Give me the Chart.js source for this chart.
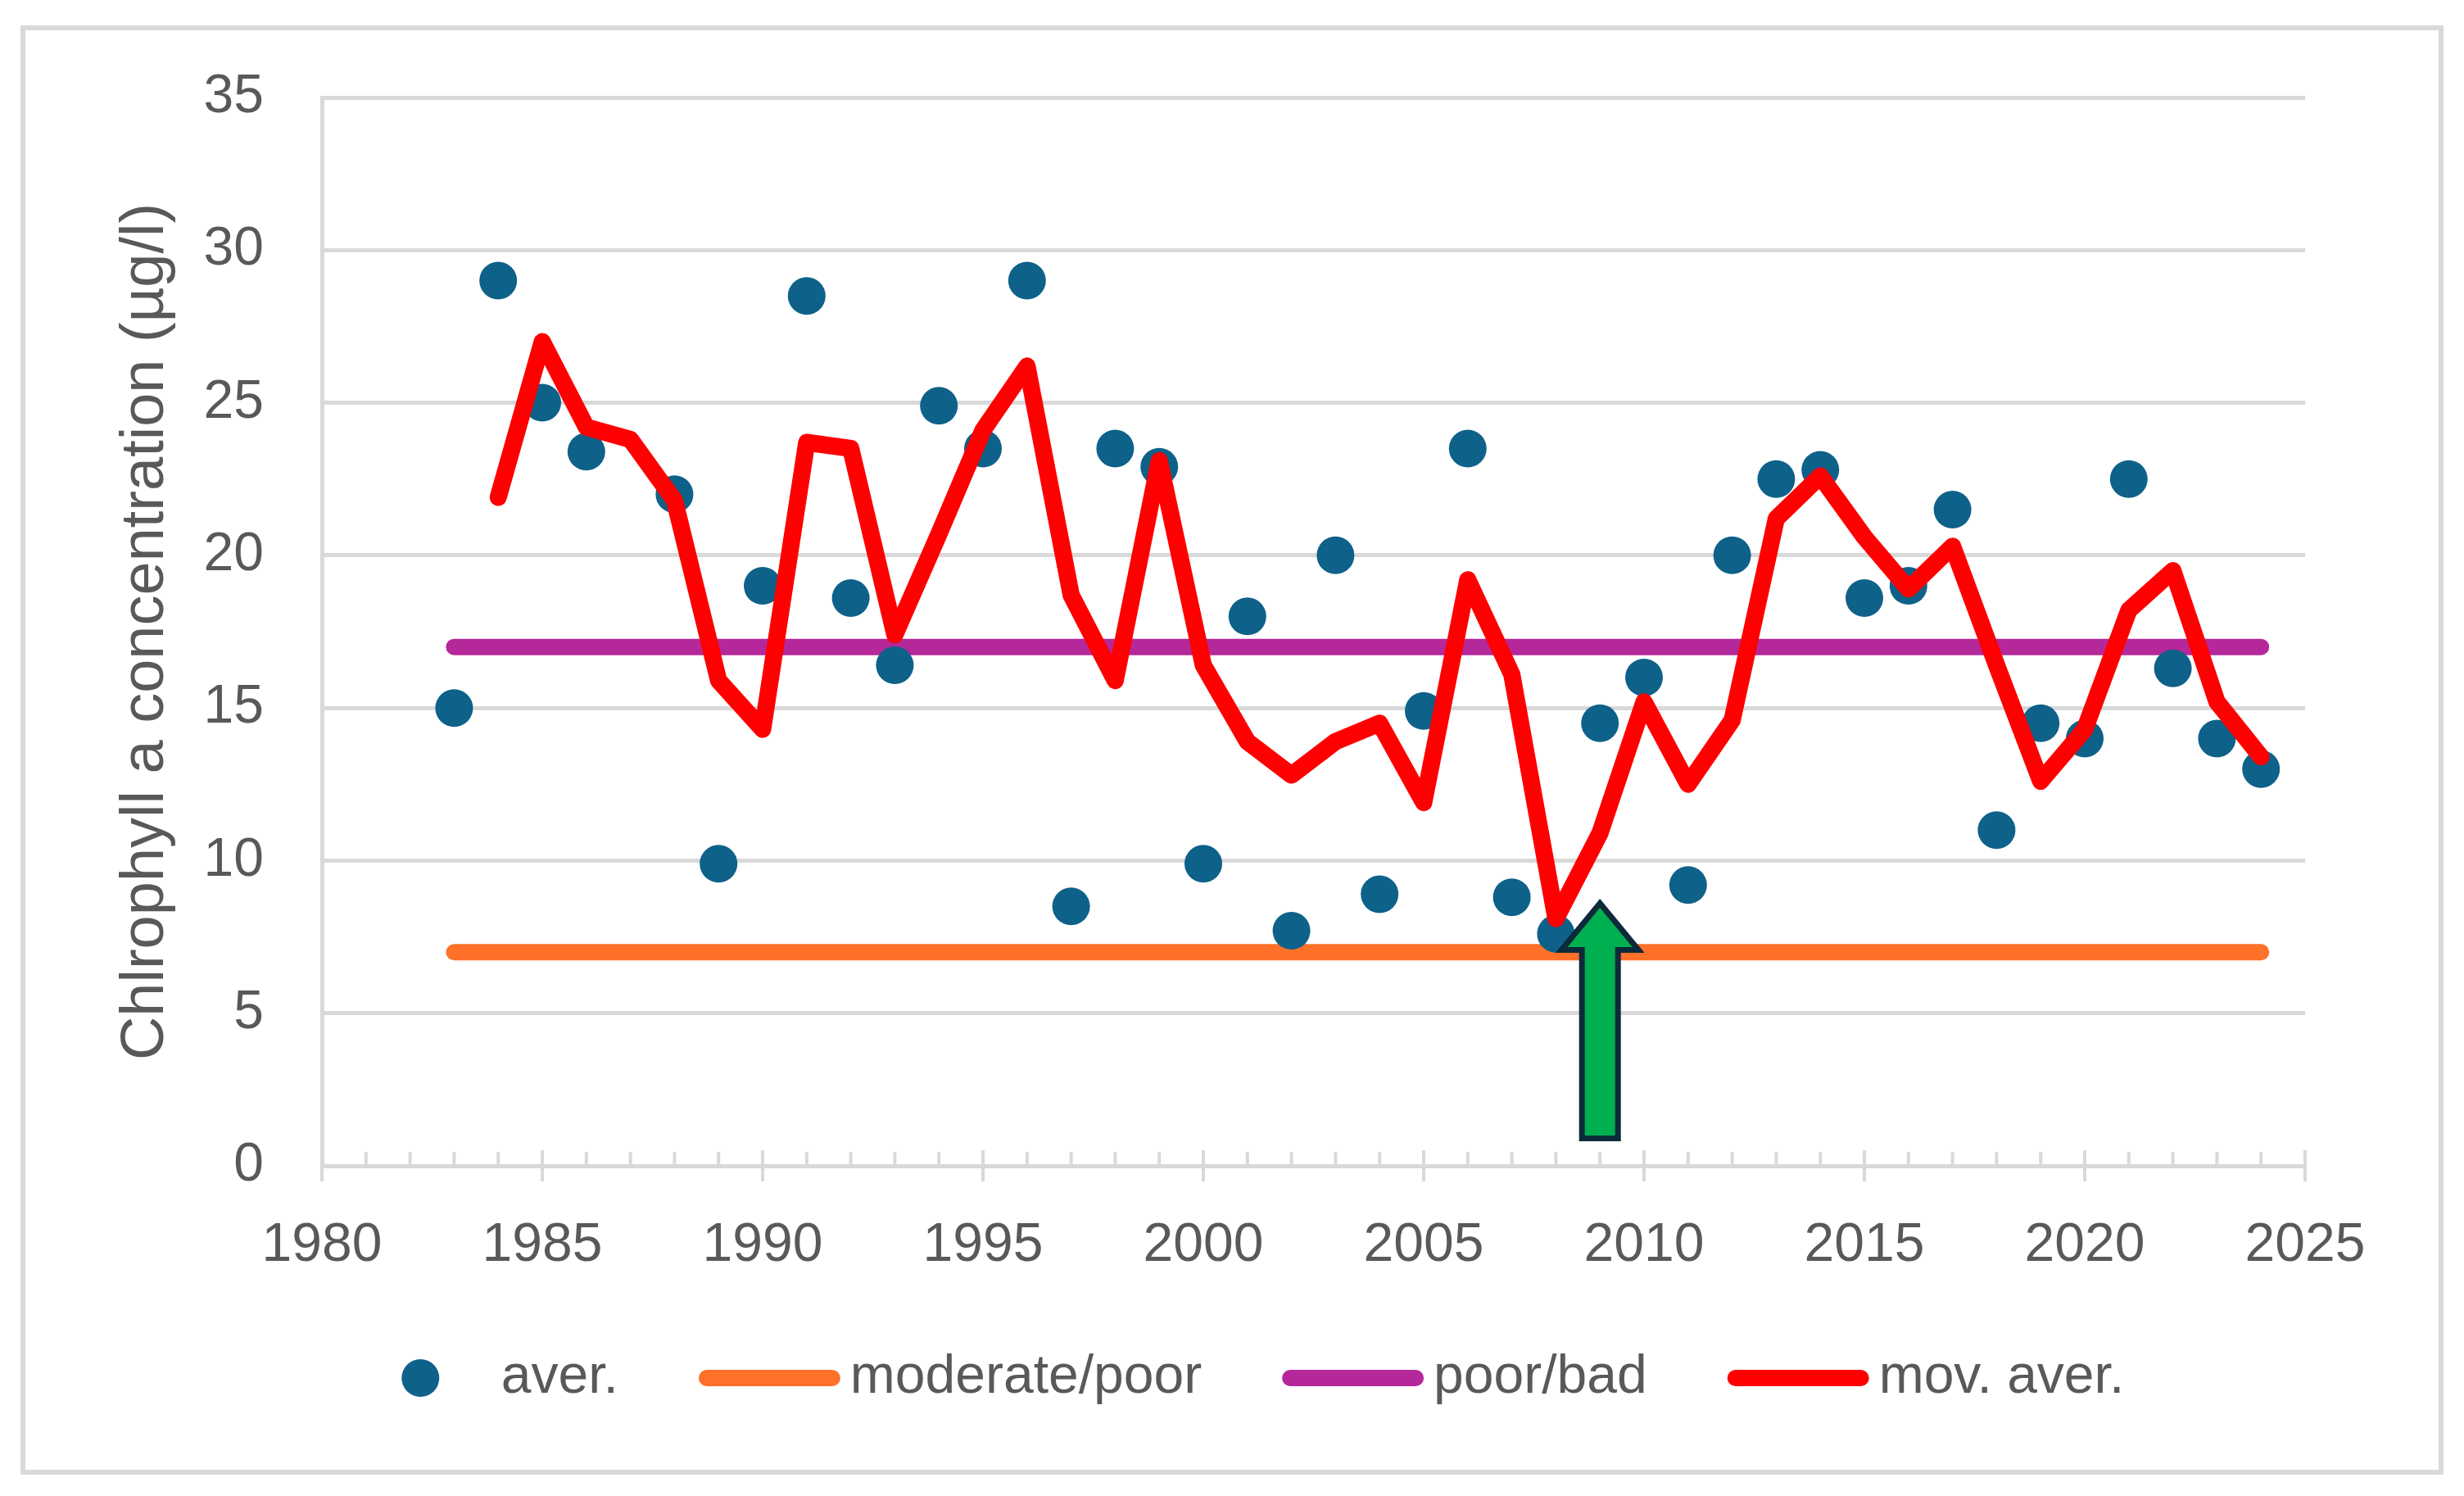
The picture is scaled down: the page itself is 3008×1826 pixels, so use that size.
<!DOCTYPE html>
<html>
<head>
<meta charset="utf-8">
<style>
  html, body { margin: 0; padding: 0; background: #ffffff; }
  #wrap { width: 3008px; height: 1826px; }
</style>
<script src="https://cdn.jsdelivr.net/npm/chart.js@4.4.1/dist/chart.umd.min.js"></script>
</head>
<body>
<div id="wrap"><canvas id="c" width="3008" height="1826"></canvas></div>
<script>
// ---------------- DATA ----------------
const years = [1983, 1984, 1985, 1986, 1987, 1988, 1989, 1990, 1991, 1992,
               1993, 1994, 1995, 1996, 1997, 1998, 1999, 2000, 2001, 2002,
               2003, 2004, 2005, 2006, 2007, 2008, 2009, 2010, 2011, 2012,
               2013, 2014, 2015, 2016, 2017, 2018, 2019, 2020, 2021, 2022,
               2023, 2024];
const aver = [15.0, 29.0, 25.0, 23.4, null, 22.0, 9.9, 19.0, 28.5, 18.6,
              16.4, 24.9, 23.5, 29.0, 8.5, 23.5, 22.9, 9.9, 18.0, 7.7,
              20.0, 8.9, 14.9, 23.5, 8.8, 7.6, 14.5, 16.0, 9.2, 20.0,
              22.5, 22.8, 18.6, 19.0, 21.5, 11.0, 14.5, 14.0, 22.5, 16.3,
              14.0, 13.0];
const movAver = [null, 21.9, 27.0, 24.2, 23.8, 21.8, 15.9, 14.3, 23.7, 23.5,
                 17.4, 20.7, 24.1, 26.2, 18.7, 15.9, 23.1, 16.4, 13.9, 12.8,
                 13.9, 14.5, 11.9, 19.2, 16.1, 8.1, 10.9, 15.2, 12.5, 14.6,
                 21.2, 22.6, 20.6, 18.9, 20.3, 16.4, 12.6, 14.3, 18.2, 19.5,
                 15.2, 13.4];
const thresholdYears = [1983, 2024];
const moderatePoor = [7, 7];
const poorBad = [17, 17];
const xTickValues = [1980, 1985, 1990, 1995, 2000, 2005, 2010, 2015, 2020, 2025];
const yTickValues = [0, 5, 10, 15, 20, 25, 30, 35];
const seriesLabels = ['aver.', 'moderate/poor', 'poor/bad', 'mov. aver.'];
const yTitle = 'Chlrophyll a concentration (\u00B5g/l)';
const arrowYear = [2009];
const arrowSpan = [0.9, 8.6];   // arrow from value 0.9 up to value 8.6

// ---------------- STYLE ----------------
const FONT = "'Liberation Sans', Arial, Helvetica, sans-serif";
const TEXT = '#595959';
const GRID = '#d9d9d9';
const COL_DOT = '#0E6189';
const COL_ORANGE = '#FF7028';
const COL_PURPLE = '#B5289A';
const COL_RED = '#FF0000';

const pts = (xs, ys) => xs.map((x, i) => ({ x: x, y: ys[i] })).filter(p => p.y !== null && p.y !== undefined);

const bgPlugin = {
  id: 'bg',
  beforeDraw(chart) {
    const ctx = chart.ctx;
    ctx.save();
    ctx.fillStyle = '#ffffff';
    ctx.fillRect(0, 0, chart.width, chart.height);
    ctx.strokeStyle = GRID;
    ctx.lineWidth = 6;
    ctx.strokeRect(28, 34, 2952, 1763);
    ctx.restore();
  }
};

const xTicksPlugin = {
  id: 'xminor',
  beforeDatasetsDraw(chart) {
    const xs = chart.scales.x, ys = chart.scales.y;
    const ctx = chart.ctx;
    const y0 = ys.getPixelForValue(yTickValues[0]);
    const first = xTickValues[0], last = xTickValues[xTickValues.length - 1];
    ctx.save();
    ctx.strokeStyle = GRID;
    ctx.lineWidth = 4;
    for (let yr = first; yr <= last; yr++) {
      const px = xs.getPixelForValue(yr);
      ctx.beginPath();
      if (xTickValues.includes(yr)) {
        ctx.moveTo(px, y0 - 19); ctx.lineTo(px, y0 + 19);
      } else {
        ctx.moveTo(px, y0 - 17); ctx.lineTo(px, y0);
      }
      ctx.stroke();
    }
    ctx.restore();
  }
};

const arrowPlugin = {
  id: 'arrow',
  afterDatasetsDraw(chart) {
    const xs = chart.scales.x, ys = chart.scales.y;
    const ctx = chart.ctx;
    const px = xs.getPixelForValue(arrowYear[0]);
    const yBase = ys.getPixelForValue(arrowSpan[0]);
    const yTip = ys.getPixelForValue(arrowSpan[1]);
    const headH = 57, shaftHW = 22, headHW = 47;
    ctx.save();
    ctx.beginPath();
    ctx.moveTo(px - shaftHW, yBase);
    ctx.lineTo(px - shaftHW, yTip + headH);
    ctx.lineTo(px - headHW, yTip + headH);
    ctx.lineTo(px, yTip);
    ctx.lineTo(px + headHW, yTip + headH);
    ctx.lineTo(px + shaftHW, yTip + headH);
    ctx.lineTo(px + shaftHW, yBase);
    ctx.closePath();
    ctx.fillStyle = '#00B050';
    ctx.fill();
    ctx.lineWidth = 7;
    ctx.lineJoin = 'miter';
    ctx.strokeStyle = '#0C2A3A';
    ctx.stroke();
    ctx.restore();
  }
};

const legendPlugin = {
  id: 'customLegend',
  afterDraw(chart) {
    const ctx = chart.ctx;
    const ds = chart.data.datasets;
    const order = [0, 1, 2, 3];
    const boxW = 173, textGap = 12, itemGap = 98, yC = 1682;
    ctx.save();
    ctx.font = '66px ' + FONT;
    const widths = order.map(i => ctx.measureText(ds[i].label).width);
    let total = 0;
    order.forEach((i, k) => { total += boxW + textGap + widths[k]; if (k < order.length - 1) total += itemGap; });
    let x = 1510 - total / 2;
    order.forEach((i, k) => {
      const d = ds[i];
      if (d.showLine === false) {
        ctx.beginPath();
        ctx.fillStyle = d.backgroundColor;
        ctx.arc(x + boxW / 2, yC, 23, 0, Math.PI * 2);
        ctx.fill();
      } else {
        ctx.beginPath();
        ctx.strokeStyle = d.borderColor;
        ctx.lineWidth = 20;
        ctx.lineCap = 'round';
        ctx.moveTo(x + 10, yC);
        ctx.lineTo(x + boxW - 10, yC);
        ctx.stroke();
      }
      ctx.fillStyle = TEXT;
      ctx.textBaseline = 'middle';
      ctx.textAlign = 'left';
      ctx.fillText(d.label, x + boxW + textGap, yC);
      x += boxW + textGap + widths[k] + itemGap;
    });
    ctx.restore();
  }
};

new Chart(document.getElementById('c'), {
  type: 'scatter',
  data: {
    datasets: [
      {
        label: seriesLabels[0],
        data: pts(years, aver),
        showLine: false,
        pointRadius: 23,
        pointHoverRadius: 23,
        pointBorderWidth: 0,
        backgroundColor: COL_DOT,
        borderColor: COL_DOT,
        order: 1
      },
      {
        label: seriesLabels[1],
        data: pts(thresholdYears, moderatePoor),
        showLine: true,
        pointRadius: 0,
        borderColor: COL_ORANGE,
        backgroundColor: COL_ORANGE,
        borderWidth: 20,
        borderCapStyle: 'round',
        order: 3
      },
      {
        label: seriesLabels[2],
        data: pts(thresholdYears, poorBad),
        showLine: true,
        pointRadius: 0,
        borderColor: COL_PURPLE,
        backgroundColor: COL_PURPLE,
        borderWidth: 20,
        borderCapStyle: 'round',
        order: 2
      },
      {
        label: seriesLabels[3],
        data: pts(years, movAver),
        showLine: true,
        pointRadius: 0,
        borderColor: COL_RED,
        backgroundColor: COL_RED,
        borderWidth: 21,
        borderCapStyle: 'round',
        borderJoinStyle: 'round',
        tension: 0,
        order: 0
      }
    ]
  },
  options: {
    responsive: false,
    maintainAspectRatio: false,
    devicePixelRatio: 1,
    animation: false,
    events: [],
    layout: { padding: { top: 119, right: 194, bottom: 253, left: 0 } },
    plugins: { legend: { display: false }, tooltip: { enabled: false } },
    scales: {
      x: {
        type: 'linear',
        min: xTickValues[0],
        max: xTickValues[xTickValues.length - 1],
        afterBuildTicks(s) { s.ticks = xTickValues.map(v => ({ value: v })); },
        afterFit(s) { s.height = 150; },
        ticks: {
          color: TEXT,
          font: { family: FONT, size: 66 },
          padding: 58,
          maxRotation: 0,
          autoSkip: false,
          callback: v => String(v)
        },
        grid: { display: true, drawOnChartArea: false, drawTicks: false, color: 'rgba(0,0,0,0)' },
        border: { display: true, color: GRID, width: 5 }
      },
      y: {
        type: 'linear',
        min: yTickValues[0],
        max: yTickValues[yTickValues.length - 1],
        afterBuildTicks(s) { s.ticks = yTickValues.map(v => ({ value: v })); },
        afterFit(s) { s.width = 393; },
        ticks: {
          color: TEXT,
          font: { family: FONT, size: 66 },
          padding: 71,
          callback: v => String(v)
        },
        grid: { color: GRID, lineWidth: 5, drawTicks: false },
        border: { display: true, color: GRID, width: 5 },
        title: {
          display: true,
          text: yTitle,
          color: TEXT,
          font: { family: FONT, size: 74 },
          padding: { top: 134, bottom: 0 }
        }
      }
    }
  },
  plugins: [bgPlugin, xTicksPlugin, arrowPlugin, legendPlugin]
});
</script>
</body>
</html>
